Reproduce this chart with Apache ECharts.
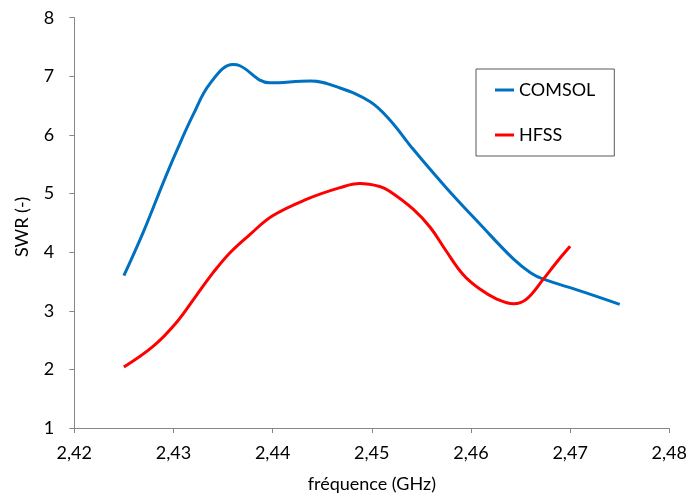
<!DOCTYPE html>
<html>
<head>
<meta charset="utf-8">
<script src="https://cdn.jsdelivr.net/npm/echarts@6/dist/echarts.min.js"></script>
<style>html,body{margin:0;padding:0;background:#fff}#c{width:690px;height:498px}</style>
</head>
<body>
<div id="c"></div>
<script>
// Data
var comsolFreq = [2.425, 2.427, 2.429, 2.4303, 2.432, 2.4337, 2.436, 2.4367, 2.4397, 2.4438, 2.4468, 2.4498, 2.4518, 2.4542, 2.4575, 2.4609, 2.4643, 2.466, 2.4673, 2.471, 2.475];
var comsolSWR  = [3.60, 4.36, 5.20, 5.72, 6.35, 6.88, 7.20, 7.18, 6.89, 6.92, 6.80, 6.57, 6.26, 5.75, 5.10, 4.48, 3.88, 3.65, 3.54, 3.34, 3.11];
var hfssFreq = [2.425, 2.428, 2.4303, 2.4323, 2.434, 2.4357, 2.4377, 2.44, 2.4434, 2.4468, 2.4488, 2.4508, 2.4518, 2.4542, 2.4559, 2.4575, 2.4592, 2.4609, 2.4626, 2.4643, 2.4656, 2.4673, 2.4686, 2.470];
var hfssSWR  = [2.04, 2.40, 2.80, 3.26, 3.65, 3.99, 4.30, 4.62, 4.90, 5.10, 5.17, 5.12, 5.04, 4.73, 4.42, 4.02, 3.62, 3.37, 3.20, 3.12, 3.20, 3.54, 3.82, 4.10];
var seriesNames = ['COMSOL', 'HFSS'];
var xTitle = 'fréquence (GHz)';
var yTitle = 'SWR (-)';

function pairs(xs, ys) { return xs.map(function (x, i) { return [x, ys[i]]; }); }

var font = 'Lato, "Open Sans", sans-serif';
var axisColor = '#868686';
var chart = echarts.init(document.getElementById('c'), null, {renderer: 'canvas'});
chart.setOption({
  animation: false,
  backgroundColor: '#fff',
  grid: {left: 74.3, right: 20.7, top: 17.7, bottom: 68.7, containLabel: false},
  legend: {
    show: true,
    orient: 'vertical',
    left: 476,
    top: 69,
    padding: [11, 19, 11, 19],
    itemGap: 25,
    itemWidth: 19,
    itemHeight: 3,
    borderColor: '#595959',
    borderWidth: 1,
    icon: 'rect',
    textStyle: {fontFamily: font, fontSize: 18, color: '#000', lineHeight: 20},
    data: seriesNames
  },
  xAxis: {
    type: 'value',
    min: 2.42, max: 2.48, interval: 0.01,
    name: xTitle, nameLocation: 'middle', nameGap: 47,
    nameTextStyle: {fontFamily: font, fontSize: 18, color: '#000'},
    axisLine: {show: true, lineStyle: {color: axisColor, width: 1}},
    axisTick: {show: true, length: 5, lineStyle: {color: axisColor}},
    splitLine: {show: false},
    axisLabel: {fontFamily: font, fontSize: 18, color: '#000', margin: 16,
      formatter: function (v) { return v.toFixed(2).replace('.', ','); }}
  },
  yAxis: {
    type: 'value',
    min: 1, max: 8, interval: 1,
    name: yTitle, nameLocation: 'middle', nameGap: 43,
    nameTextStyle: {fontFamily: font, fontSize: 18, color: '#000', padding: [0, 0, 0, -8]},
    axisLine: {show: true, lineStyle: {color: axisColor, width: 1}},
    axisTick: {show: true, length: 5, lineStyle: {color: axisColor}},
    splitLine: {show: false},
    axisLabel: {fontFamily: font, fontSize: 18, color: '#000', margin: 20}
  },
  series: [
    {name: seriesNames[0], type: 'line', data: pairs(comsolFreq, comsolSWR), smooth: 0.4,
     showSymbol: false, symbol: 'none', lineStyle: {color: '#0070C0', width: 3}, itemStyle: {color: '#0070C0'}},
    {name: seriesNames[1], type: 'line', data: pairs(hfssFreq, hfssSWR), smooth: 0.4,
     showSymbol: false, symbol: 'none', lineStyle: {color: '#FF0000', width: 3}, itemStyle: {color: '#FF0000'}}
  ]
});
</script>
</body>
</html>
